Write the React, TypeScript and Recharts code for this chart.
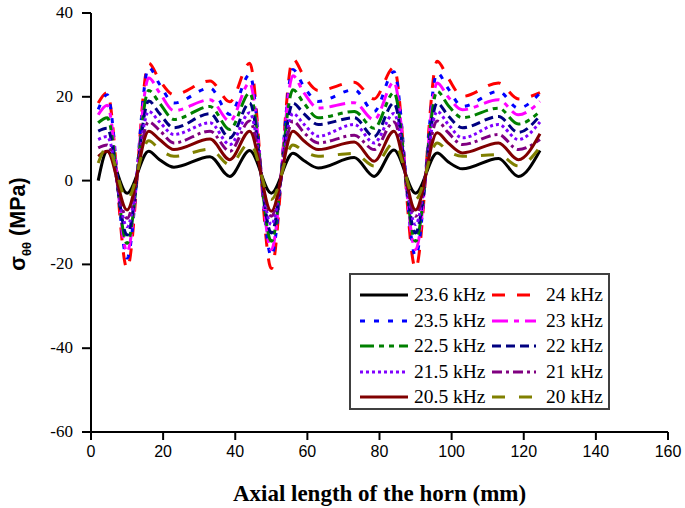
import React from "react";
import { LineChart, Line, XAxis, YAxis } from "recharts";

// axial positions (mm)
const axialMm = [2, 4.5, 10, 16, 19, 23, 33, 38.5, 44, 50, 56, 59, 63, 73, 78.5, 84, 90, 96, 99, 103, 113, 118.5, 124.5];

// hoop stress (MPa) per frequency
const s23_6 = [0, 7, -3, 7, 5, 3.2, 5.7, 1, 7.2, -3, 6.5, 4.8, 3, 5.5, 1, 7.3, -3, 6.6, 4.5, 2.8, 5.3, 1, 7.2];
const s24 = [18.5, 21, -21, 28, 24, 20.5, 23.8, 18.8, 28, -21, 29, 25, 21.5, 23.5, 19.5, 27, -21, 28.5, 24.5, 20.1, 23.3, 19.5, 21];
const s23_5 = [17, 20.5, -18.5, 27, 23, 18.5, 22.1, 15.8, 25.3, -18, 26.5, 22.5, 18.9, 21.7, 16.5, 26, -18, 25.7, 22, 17.7, 21.3, 17.3, 20.9];
const s23 = [15.7, 18, -17, 24.5, 21, 16.7, 19.3, 14.2, 23.3, -16.5, 25, 21, 17.3, 18.6, 14.5, 23.5, -16.5, 23.3, 20, 16.9, 19.3, 15.7, 18.9];
const s22_5 = [13.8, 15, -15, 21.5, 18.5, 14.6, 17.7, 12.2, 20.9, -14.5, 21.7, 18.5, 15, 16.5, 12.5, 21, -14.5, 21.3, 18, 15, 17.3, 13.5, 16.5];
const s22 = [11.8, 12.5, -13, 19, 16, 12.6, 16, 10.2, 18.5, -12.5, 18.5, 16, 13.4, 15, 10.5, 18.5, -12.5, 18.5, 15.5, 12.6, 15.3, 11.5, 15.5];
const s21_5 = [9.8, 10.5, -11, 16.5, 14, 11, 13.8, 8.6, 16.2, -10.5, 16, 13.5, 10.6, 13.4, 9, 16, -10.5, 16.5, 13.5, 10.2, 13.4, 9.8, 14];
const s21 = [7.8, 8.5, -9, 14, 12, 9, 11.8, 7, 14.2, -8.5, 14.2, 11.5, 9, 10.8, 7.4, 14, -8.5, 14.2, 11.5, 8.6, 11, 7.4, 9.8];
const s20_5 = [5.8, 7, -7, 11.8, 9.8, 7.4, 9.9, 5, 11.8, -7.3, 11.8, 9.5, 7.4, 9.2, 4.6, 11.8, -7, 11.4, 9, 6.6, 9, 5, 11.2];
const s20 = [4.2, 8, -4.5, 9.5, 7.5, 5.8, 7.5, 3.8, 9, -4.5, 8.5, 7, 5.8, 6.5, 3.5, 9, -4.5, 9, 7, 5.8, 6.2, 3.5, 8];

const xTicks = [0, 20, 40, 60, 80, 100, 120, 140, 160];
const yTicks = [-60, -40, -20, 0, 20, 40];

const serif = "'Liberation Serif', 'Times New Roman', serif";
const sans = "'Liberation Sans', Arial, sans-serif";

const series = [
  { key: "f23_6", name: "23.6 kHz", values: s23_6, color: "#000000", dash: undefined },
  { key: "f24", name: "24 kHz", values: s24, color: "#ff0000", dash: "13 12" },
  { key: "f23_5", name: "23.5 kHz", values: s23_5, color: "#0000ff", dash: "5 9" },
  { key: "f23", name: "23 kHz", values: s23, color: "#ff00ff", dash: "16 6 5 6" },
  { key: "f22_5", name: "22.5 kHz", values: s22_5, color: "#008000", dash: "14 5 5 5 5 5" },
  { key: "f22", name: "22 kHz", values: s22, color: "#000080", dash: "9 5" },
  { key: "f21_5", name: "21.5 kHz", values: s21_5, color: "#8000ff", dash: "3 3" },
  { key: "f21", name: "21 kHz", values: s21, color: "#800080", dash: "10 4 3 4" },
  { key: "f20_5", name: "20.5 kHz", values: s20_5, color: "#800000", dash: undefined },
  { key: "f20", name: "20 kHz", values: s20, color: "#808000", dash: "13 14" },
];

const data = axialMm.map((x, i) => {
  const row: Record<string, number> = { x };
  series.forEach((s) => (row[s.key] = s.values[i]));
  return row;
});

// serif tick labels on the stress axis
const YTick = (props: any) => {
  const { x, y, payload } = props;
  return (
    <text x={x} y={y} dy={5} textAnchor="end" fontFamily={serif} fontSize={17} fill="#000">
      {payload.value}
    </text>
  );
};

const YLabel = () => (
  <text
    transform="translate(25, 224) rotate(-90)"
    textAnchor="middle"
    fontFamily={sans}
    fontWeight="bold"
    fontSize={21.5}
    fill="#000"
  >
    σ<tspan fontSize={13} dy={6}>θθ</tspan>
    <tspan dy={-6}> (MPa)</tspan>
  </text>
);

const LegendBox = () => (
  <div
    style={{
      position: "absolute",
      left: 349,
      top: 273,
      width: 257,
      height: 133,
      border: "2px solid #404040",
      background: "#fff",
      fontFamily: serif,
      fontSize: 19.5,
    }}
  >
    {series.map((s, i) => {
      const col = i % 2;
      const row = Math.floor(i / 2);
      const lineLeft = col === 0 ? 9 : 141;
      const lineW = col === 0 ? 48 : 44;
      const textLeft = col === 0 ? 63 : 195;
      const cy = 20 + row * 25.6;
      return (
        <React.Fragment key={s.key}>
          <svg style={{ position: "absolute", left: lineLeft, top: cy - 3 }} width={lineW} height={6}>
            <line x1={0} y1={3} x2={lineW} y2={3} stroke={s.color} strokeWidth={3} strokeDasharray={s.dash} />
          </svg>
          <span style={{ position: "absolute", left: textLeft, top: cy - 12, lineHeight: "24px", whiteSpace: "nowrap" }}>
            {s.name}
          </span>
        </React.Fragment>
      );
    })}
  </div>
);

export default function App() {
  return (
    <div style={{ position: "absolute", left: 0, top: 0, width: 685, height: 508, background: "#fff" }}>
      <LineChart width={685} height={508} data={data} margin={{ top: 13, right: 17, left: 0, bottom: 0 }}>
        <XAxis
          dataKey="x"
          type="number"
          domain={[0, 160]}
          ticks={xTicks}
          height={76}
          stroke="#000"
          strokeWidth={2}
          tickSize={8}
          tickMargin={6}
          tick={{ fill: "#000", fontSize: 16, fontFamily: sans }}
          label={{
            value: "Axial length of the horn (mm)",
            position: "insideBottom",
            offset: 7,
            fill: "#000",
            fontSize: 23,
            fontWeight: "bold",
            fontFamily: serif,
          }}
        />
        <XAxis xAxisId="top" orientation="top" type="number" domain={[0, 160]} height={0} stroke="#000" strokeWidth={2} tick={false} tickLine={false} />
        <YAxis
          domain={[-60, 40]}
          ticks={yTicks}
          width={91}
          stroke="#000"
          strokeWidth={2}
          tickSize={9}
          tickMargin={9}
          tick={<YTick />}
          label={<YLabel />}
        />
        <YAxis yAxisId="right" orientation="right" domain={[-60, 40]} width={0} stroke="#000" strokeWidth={2} tick={false} tickLine={false} />
        {series.map((s) => (
          <Line
            key={s.key}
            dataKey={s.key}
            name={s.name}
            type="monotone"
            stroke={s.color}
            strokeWidth={3}
            strokeDasharray={s.dash}
            dot={false}
            isAnimationActive={false}
          />
        ))}
      </LineChart>
      <LegendBox />
    </div>
  );
}
